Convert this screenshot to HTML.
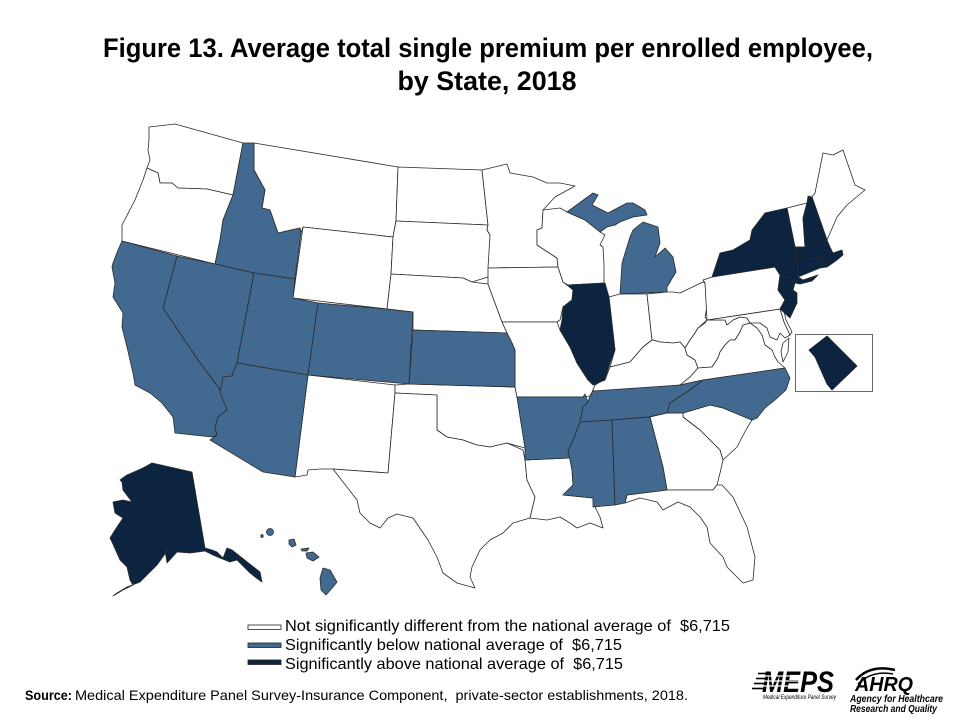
<!DOCTYPE html>
<html><head><meta charset="utf-8"><style>
html,body{margin:0;padding:0;background:#fff;}
svg{display:block;}
</style></head><body>
<svg width="960" height="720" viewBox="0 0 960 720" xmlns="http://www.w3.org/2000/svg">
<rect width="960" height="720" fill="#fff"/>
<text x="488" y="57" text-anchor="middle" font-family="Liberation Sans, sans-serif" font-weight="bold" font-size="27" textLength="770" lengthAdjust="spacingAndGlyphs" fill="#000">Figure 13. Average total single premium per enrolled employee,</text>
<text x="487" y="90" text-anchor="middle" font-family="Liberation Sans, sans-serif" font-weight="bold" font-size="27" textLength="179" lengthAdjust="spacingAndGlyphs" fill="#000">by State, 2018</text>

<g stroke="#2a2a2a" stroke-width="0.8" stroke-linejoin="round">
<!-- white states -->
<g fill="#ffffff">
<polygon points="149,127 175,124 243,143 233,195 207,189 178,188 172,183 160,183 158,173 147,168 150,160 148,150 149,140"/>
<polygon points="147,168 158,173 160,183 172,183 178,188 207,189 233,195 229,205 223,220 220,240 215,264 122,241 122,225 135,200 143,180"/>
<polygon points="254,143 398,167 396,221 393,237 303,227 301,233 300,228 278,233 270,210 262,208 265,190 254,170"/>
<polygon points="303,227 393,237 391,274 387,309 293,298"/>
<polygon points="398,167 482,170 488,225 396,221"/>
<polygon points="396,221 488,225 487,230 490,235 490,268 488,277 472,282 463,278 391,274 393,237"/>
<polygon points="391,274 463,278 472,282 488,284 502,322 507,333 413,330 413,312 387,309"/>
<polygon points="308,375 395,385 395,393 388,473 333,469 320,469 308,470 307,475 295,477"/>
<polygon points="395,385 409,384 515,387 517,397 525,448 507,443 490,447 477,445 463,440 447,437 437,430 437,395 395,393"/>
<polygon points="395,393 437,395 437,430 447,437 463,440 477,445 490,447 507,443 523,450 525,460 527,480 535,497 530,518 513,523 503,533 490,540 480,550 472,567 470,577 475,588 457,583 443,573 437,557 428,540 413,518 397,514 388,518 380,528 370,523 360,513 357,500 333,469 388,473"/>
<polygon points="482,170 507,164 510,173 533,177 547,183 560,183 575,186 555,197 543,210 542,228 537,230 537,245 557,258 558,267 488,268 490,235 487,230 488,225"/>
<polygon points="488,268 558,267 563,282 573,290 572,300 563,307 560,320 557,322 502,322 488,284 488,277"/>
<polygon points="502,322 557,322 560,330 570,347 577,363 588,380 595,385 593,390 590,396 583,397 517,397 515,387 515,350 512,343 507,333"/>
<polygon points="543,210 560,208 567,212 585,220 600,232 605,235 600,245 603,247 604,265 604,283 568,285 563,282 558,267 557,258 537,245 537,230 542,228"/>
<polygon points="609,297 620,294 647,294 652,340 643,347 630,362 610,367 615,350"/>
<polygon points="647,294 667,292 673,292 680,293 703,282 705,283 707,307 705,317 707,320 698,328 695,333 690,340 685,348 680,342 673,343 660,342 653,340 652,340"/>
<polygon points="610,367 630,362 643,347 652,340 653,340 660,342 673,343 680,342 685,348 687,355 695,360 698,368 690,377 680,385 650,388 608,391 595,392 593,390 595,385 600,382 605,380"/>
<polygon points="705,323 707,320 725,320 727,325 733,320 740,317 747,318 750,323 743,325 740,332 735,340 730,340 725,345 720,352 718,358 712,367 698,368 695,360 687,355 685,348 690,340 695,333 698,328"/>
<polygon points="680,385 690,377 698,368 712,367 718,358 720,352 725,345 730,340 735,340 740,332 743,325 750,323 757,328 762,335 765,345 772,350 775,357 778,362 785,368 703,380"/>
<polygon points="783,343 789,338 788,352 783,362 781,352"/>
<polygon points="707,320 780,309 784,322 790,335 785,338 780,333 777,340 770,337 767,328 760,323 750,323 747,318 740,317 733,320 727,325 725,320"/>
<polygon points="780,309 784,311 786,320 792,332 790,335 784,322"/>
<polygon points="703,280 712,277 775,267 780,275 778,290 785,300 780,309 707,320 705,283"/>
<polygon points="787,208 807,203 803,218 805,247 795,247"/>
<polygon points="812,197 815,193 823,153 833,155 843,150 855,185 865,190 847,205 837,217 827,240"/>
<polygon points="683,413 710,405 723,408 752,420 747,428 737,447 723,460 720,450 700,430 683,417"/>
<polygon points="650,417 667,413 683,413 683,417 700,430 720,450 723,460 720,473 717,485 713,490 667,490 663,467"/>
<polygon points="525,460 570,458 572,470 573,485 563,495 593,498 595,507 600,517 603,528 590,523 577,528 570,523 560,517 547,520 530,518 535,497 527,480"/>
<polygon points="627,495 667,490 713,490 717,485 722,485 733,497 747,527 755,557 753,580 743,583 733,573 727,567 723,557 710,543 707,527 700,517 690,507 678,502 663,510 657,502 640,498 625,503"/>
</g>
<!-- below average -->
<g fill="#426a91">
<polygon points="243,143 254,143 254,170 265,190 262,208 270,210 278,233 300,228 301,233 295,279 254,273 215,264 220,240 223,220 229,205 233,195"/>
<polygon points="177,256 215,264 254,273 237,363 232,376 223,377 221,391 198,360 163,308"/>
<polygon points="122,241 177,256 163,308 198,360 221,391 227,410 218,417 215,427 217,435 212,437 175,433 173,417 162,403 150,393 135,385 133,373 127,347 122,327 123,313 113,297 115,283 112,267 113,263 118,250"/>
<polygon points="254,273 295,279 293,298 318,303 308,375 237,363"/>
<polygon points="318,303 387,309 413,312 409,384 308,375"/>
<polygon points="237,363 308,375 295,477 263,472 210,440 217,435 215,427 218,417 227,410 220,392 223,377 232,376"/>
<polygon points="413,330 507,333 512,343 515,350 515,387 409,384"/>
<polygon points="620,294 622,263 630,237 633,230 643,222 658,227 660,243 655,257 665,248 673,257 676,272 667,287 667,292"/>
<polygon points="567,212 593,193 598,195 592,205 608,213 627,203 633,203 640,207 645,210 647,215 633,217 620,222 615,225 607,227 600,232 585,220"/>
<polygon points="517,397 583,397 585,394 588,402 583,407 580,422 577,430 572,443 568,452 570,458 525,460 525,448"/>
<polygon points="593,391 608,390 680,385 703,380 690,390 670,403 667,413 648,417 612,420 580,422 583,407 588,402 590,396"/>
<polygon points="703,380 785,368 790,378 786,390 775,400 765,408 757,418 752,420 723,408 710,405 683,413 667,413 670,403 690,390"/>
<polygon points="580,422 612,420 615,505 593,507 593,498 563,495 573,485 572,470 568,450 572,443 577,430"/>
<polygon points="612,420 650,417 663,467 667,490 627,495 625,503 615,505"/>
<!-- Hawaii -->
<circle cx="270" cy="532" r="3.5"/>
<ellipse cx="262" cy="536" rx="1.2" ry="1.5"/>
<polygon points="289,540 294,539 296,545 292,547 289,544"/>
<polygon points="301,549 309,548 307,551 302,551"/>
<polygon points="306,553 313,552 319,557 313,561 307,558"/>
<polygon points="323,568 330,570 337,582 333,587 326,595 321,590 320,578"/>
</g>
<!-- above average -->
<g fill="#0c2440">
<polygon points="568,285 605,283 609,297 615,350 610,363 605,380 600,382 593,385 588,380 577,363 570,347 560,330 562,320 563,307 572,300 573,290"/>
<polygon points="712,277 720,253 733,250 750,240 752,230 765,213 787,208 795,247 797,260 798,277 803,280 818,275 812,281 800,284 795,283 790,278 780,275 775,267"/>
<polygon points="780,275 790,278 795,283 793,290 797,293 797,303 790,318 780,309 785,300 778,290"/>
<polygon points="808,196 812,197 827,240 805,247 803,218 807,203"/>
<polygon points="795,247 805,247 827,240 830,247 833,253 842,250 843,255 837,260 827,267 823,257 797,260"/>
<polygon points="797,260 818,257 820,268 798,277"/>
<polygon points="818,257 823,257 827,267 820,268"/>
<!-- Alaska -->
<polygon points="152,463 192,472 205,548 212,550 217,552 223,558 227,548 232,550 260,572 262,582 255,577 250,573 237,560 230,562 220,558 213,555 205,551 190,553 177,552 167,563 165,550 170,547 157,565 140,582 127,587 117,593 113,596 123,590 133,585 130,580 127,567 120,560 112,542 110,538 115,530 123,518 115,513 113,502 123,500 132,502 123,490 122,482 120,480 127,475 143,468"/>
</g>
</g>
<!-- DC inset -->
<rect x="795.5" y="334.5" width="77" height="57" fill="#fff" stroke="#444" stroke-width="0.8"/>
<polygon points="827,336 857,366 832,390 827,384 815,357 809,350" fill="#0c2440" stroke="#222" stroke-width="0.8"/>

<!-- Legend -->
<rect x="248" y="625" width="33" height="4.5" fill="#fff" stroke="#222" stroke-width="0.8"/>
<rect x="248" y="643" width="33" height="4.5" fill="#426a91" stroke="#222" stroke-width="0.8"/>
<rect x="248" y="660" width="33" height="4.5" fill="#0c2440" stroke="#222" stroke-width="0.8"/>
<g font-family="Liberation Sans, Arial, sans-serif" font-size="16" fill="#000">
<text x="285" y="631" textLength="445" lengthAdjust="spacingAndGlyphs" xml:space="preserve">Not significantly different from the national average of  $6,715</text>
<text x="285" y="650" textLength="337" lengthAdjust="spacingAndGlyphs" xml:space="preserve">Significantly below national average of  $6,715</text>
<text x="285" y="669" textLength="338" lengthAdjust="spacingAndGlyphs" xml:space="preserve">Significantly above national average of  $6,715</text>
</g>

<!-- Source -->
<text x="25" y="700" font-family="Liberation Sans, sans-serif" font-weight="bold" font-size="14" textLength="47" lengthAdjust="spacingAndGlyphs" fill="#000">Source:</text>
<text x="75" y="700" font-family="Liberation Sans, sans-serif" font-size="14" textLength="613" lengthAdjust="spacingAndGlyphs" fill="#000" xml:space="preserve">Medical Expenditure Panel Survey-Insurance Component,  private-sector establishments, 2018.</text>

<!-- MEPS logo -->
<text x="762" y="692" font-family="Liberation Sans, sans-serif" font-weight="bold" font-style="italic" font-size="30" textLength="72" lengthAdjust="spacingAndGlyphs" fill="#000">MEPS</text>
<g stroke="#fff" stroke-width="1.3">
<line x1="755" y1="676" x2="800" y2="676"/>
<line x1="755" y1="681" x2="800" y2="681"/>
<line x1="755" y1="686" x2="800" y2="686"/>
</g>
<g stroke="#000" stroke-width="1.6">
<line x1="758" y1="673.5" x2="770" y2="673.5"/>
<line x1="756" y1="678.5" x2="768" y2="678.5"/>
<line x1="754" y1="683.5" x2="766" y2="683.5"/>
<line x1="752" y1="688.5" x2="764" y2="688.5"/>
</g>
<text x="763" y="699" font-family="Liberation Sans, sans-serif" font-style="italic" font-size="6" textLength="73" lengthAdjust="spacingAndGlyphs" fill="#000">Medical Expenditure Panel Survey</text>

<!-- AHRQ logo -->
<path d="M856,680 Q870,664 895,670" fill="none" stroke="#000" stroke-width="2.5"/>
<path d="M858,684 Q872,670 893,674" fill="none" stroke="#000" stroke-width="1.5"/>
<text x="855" y="691" font-family="Liberation Sans, sans-serif" font-weight="bold" font-style="italic" font-size="20" textLength="58" lengthAdjust="spacingAndGlyphs" fill="#000">AHRQ</text>
<text x="850" y="702" font-family="Liberation Sans, sans-serif" font-weight="bold" font-style="italic" font-size="10" textLength="93" lengthAdjust="spacingAndGlyphs" fill="#000">Agency for Healthcare</text>
<text x="850" y="712" font-family="Liberation Sans, sans-serif" font-weight="bold" font-style="italic" font-size="10" textLength="87" lengthAdjust="spacingAndGlyphs" fill="#000">Research and Quality</text>
</svg>
</body></html>
